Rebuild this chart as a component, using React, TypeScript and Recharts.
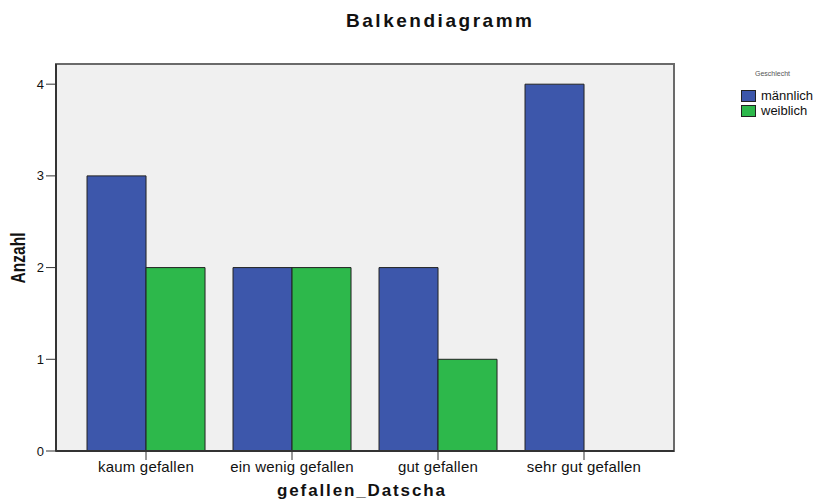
import { BarChart, Bar, XAxis, YAxis, CartesianGrid, usePlotArea } from 'recharts'

const categories = ['kaum gefallen', 'ein wenig gefallen', 'gut gefallen', 'sehr gut gefallen']
const maennlich = [3, 2, 2, 4]
const weiblich = [2, 2, 1, 0]
const yTicks = [0, 1, 2, 3, 4]

const data = categories.map((name, i) => ({ name, maennlich: maennlich[i], weiblich: weiblich[i] }))

const BLUE = '#3d57ab'
const GREEN = '#2db84b'
const FONT = '"Liberation Sans", Arial, sans-serif'

// frame around the plot area (top + right edges, axes cover the rest)
const PlotFrame = () => {
  const area = usePlotArea ? usePlotArea() : null
  if (!area) return null
  return (
    <rect
      x={area.x}
      y={area.y}
      width={area.width}
      height={area.height}
      fill="none"
      stroke="#6a6a6a"
      strokeWidth={2}
    />
  )
}

const legendItems = [
  { label: 'männlich', color: BLUE },
  { label: 'weiblich', color: GREEN },
]

export default function App() {
  return (
    <div style={{ position: 'absolute', left: 0, top: 0, width: 824, height: 501, background: '#fff' }}>
      <BarChart
        width={824}
        height={501}
        data={data}
        margin={{ top: 64, right: 150, bottom: 20, left: 12 }}
        barGap={0}
        barCategoryGap="9.6%"
      >
        <CartesianGrid horizontal={false} vertical={false} fill="#f0f0f0" />
        <PlotFrame />
        <XAxis
          dataKey="name"
          padding={{ left: 17, right: 17 }}
          height={30}
          tick={{ fill: '#111', fontSize: 15, fontFamily: FONT, letterSpacing: 0.2 }}
          tickSize={9}
          tickMargin={1}
          tickLine={{ stroke: '#333' }}
          axisLine={{ stroke: '#333', strokeWidth: 2 }}
          interval={0}
        />
        <YAxis
          domain={[0, 4.22]}
          ticks={yTicks}
          width={44}
          allowDataOverflow
          tick={{ fill: '#111', fontSize: 13, fontFamily: FONT }}
          tickSize={10}
          tickMargin={2}
          tickLine={{ stroke: '#333' }}
          axisLine={{ stroke: '#333', strokeWidth: 2 }}
        />
        <Bar dataKey="maennlich" name="männlich" fill={BLUE} stroke="#222" strokeWidth={1} isAnimationActive={false} />
        <Bar dataKey="weiblich" name="weiblich" fill={GREEN} stroke="#222" strokeWidth={1} isAnimationActive={false} />
        <text
          x={439}
          y={27}
          textAnchor="middle"
          fontFamily={FONT}
          fontWeight="bold"
          fontSize={19}
          textLength={186}
          lengthAdjust="spacing"
          fill="#111"
        >
          Balkendiagramm
        </text>
        <text
          x={361}
          y={496}
          textAnchor="middle"
          fontFamily={FONT}
          fontWeight="bold"
          fontSize={17}
          textLength={168}
          lengthAdjust="spacing"
          fill="#111"
        >
          gefallen_Datscha
        </text>
        <text
          x={25}
          y={258}
          textAnchor="middle"
          transform="rotate(-90 25 258)"
          fontFamily={FONT}
          fontWeight="bold"
          fontSize={20}
          textLength={51}
          lengthAdjust="spacingAndGlyphs"
          fill="#111"
        >
          Anzahl
        </text>
      </BarChart>
      <div style={{ position: 'absolute', left: 741, top: 70, fontFamily: FONT }}>
        <div style={{ fontSize: 7, lineHeight: '8px', color: '#555', marginLeft: 14, height: 18 }}>Geschlecht</div>
        {legendItems.map((e) => (
          <div key={e.label} style={{ display: 'flex', alignItems: 'center', height: 15, lineHeight: '15px', fontSize: 13, color: '#111' }}>
            <div style={{ width: 13, height: 10, background: e.color, border: '1px solid #222', marginRight: 5 }} />
            {e.label}
          </div>
        ))}
      </div>
    </div>
  )
}
